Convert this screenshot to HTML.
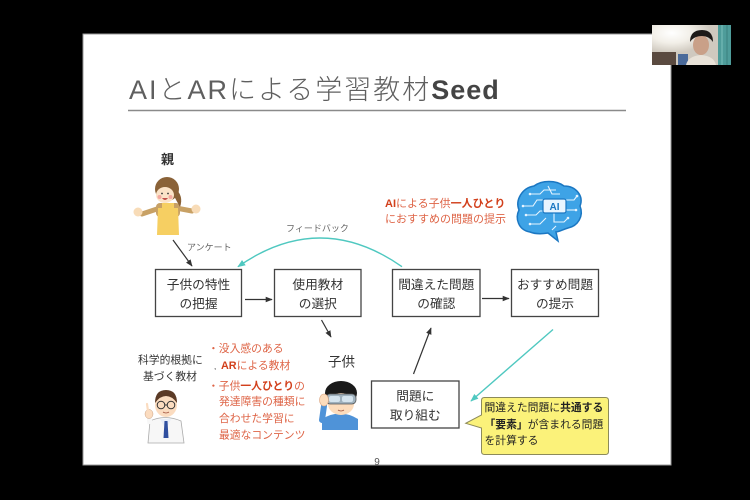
<!DOCTYPE html>
<html>
<head>
<meta charset="utf-8">
<style>
  html,body{margin:0;padding:0;background:#000;}
  body{width:750px;height:500px;overflow:hidden;position:relative;}
  svg{position:absolute;left:0;top:0;}
  text{font-family:"Liberation Sans","Noto Sans CJK JP",sans-serif;}
</style>
</head>
<body>
<svg width="750" height="500" viewBox="0 0 750 500" xmlns="http://www.w3.org/2000/svg">
  <defs>
    <marker id="ah" viewBox="0 0 10 10" refX="9" refY="5" markerWidth="7" markerHeight="7" markerUnits="userSpaceOnUse" orient="auto">
      <path d="M0,1 L10,5 L0,9 z" fill="#333"/>
    </marker>
    <marker id="aht" viewBox="0 0 10 10" refX="9" refY="5" markerWidth="8" markerHeight="8" markerUnits="userSpaceOnUse" orient="auto">
      <path d="M0,1 L10,5 L0,9 z" fill="#4fc8c0"/>
    </marker>
    <radialGradient id="lamp" cx="0.25" cy="0.2" r="0.5">
      <stop offset="0" stop-color="#ffffff"/>
      <stop offset="0.5" stop-color="#f2efe8"/>
      <stop offset="1" stop-color="#cfc9bf"/>
    </radialGradient>
  </defs>

  <rect x="0" y="0" width="750" height="500" fill="#000"/>

  <!-- slide -->
  <rect x="83" y="34" width="588" height="431" fill="#ffffff" stroke="#9a9a9a" stroke-width="1"/>

  <!-- title -->
  <text x="129" y="99" font-size="27" fill="#5f5f5f" font-weight="300" letter-spacing="2">AIとARによる学習教材<tspan font-weight="bold" fill="#444" letter-spacing="1">Seed</tspan></text>
  <line x1="128" y1="110.5" x2="626" y2="110.5" stroke="#8a8a8a" stroke-width="1.5"/>

  <!-- boxes -->
  <g fill="#fff" stroke="#444" stroke-width="1.3">
    <rect x="155.5" y="269.5" width="86" height="47"/>
    <rect x="274.5" y="269.5" width="86.5" height="47"/>
    <rect x="392.5" y="269.5" width="87.5" height="47"/>
    <rect x="511.5" y="269.5" width="87" height="47"/>
    <rect x="371.5" y="381" width="87.5" height="47"/>
  </g>
  <g font-size="12.7" fill="#333" text-anchor="middle">
    <text x="198.5" y="289">子供の特性</text>
    <text x="198.5" y="308">の把握</text>
    <text x="317.8" y="289">使用教材</text>
    <text x="317.8" y="308">の選択</text>
    <text x="436.3" y="289">間違えた問題</text>
    <text x="436.3" y="308">の確認</text>
    <text x="555" y="289">おすすめ問題</text>
    <text x="555" y="308">の提示</text>
    <text x="415.3" y="400.5">問題に</text>
    <text x="415.3" y="419.5">取り組む</text>
  </g>

  <!-- dark arrows -->
  <g stroke="#333" stroke-width="1.2" fill="none" marker-end="url(#ah)">
    <line x1="245" y1="299.5" x2="272" y2="299.5"/>
    <line x1="482" y1="298.5" x2="509" y2="298.5"/>
    <line x1="173" y1="240" x2="192" y2="266"/>
    <line x1="321.5" y1="320" x2="331" y2="337"/>
    <line x1="413.5" y1="374" x2="431" y2="328"/>
  </g>

  <!-- teal arrows -->
  <path d="M402,266.7 Q320,209.3 238,266.7" stroke="#4fc8c0" stroke-width="1.4" fill="none" marker-end="url(#aht)"/>
  <line x1="553" y1="329.5" x2="471" y2="401" stroke="#4fc8c0" stroke-width="1.4" marker-end="url(#aht)"/>

  <!-- labels -->
  <text x="161" y="164" font-size="13" font-weight="bold" fill="#333">親</text>
  <text x="187" y="250.5" font-size="9" fill="#666">アンケート</text>
  <text x="286" y="231.5" font-size="9" fill="#666">フィードバック</text>

  <text x="385" y="207" font-size="11" fill="#de6446"><tspan font-weight="bold" fill="#d2401c">AI</tspan>による子供<tspan font-weight="bold" fill="#d2401c">一人ひとり</tspan></text>
  <text x="385" y="222.5" font-size="11" fill="#de6446">におすすめの問題の提示</text>

  <text x="328" y="366.5" font-size="13.5" fill="#333">子供</text>

  <text x="138" y="363.5" font-size="10.8" fill="#333">科学的根拠に</text>
  <text x="143" y="380" font-size="10.8" fill="#333">基づく教材</text>

  <g font-size="10.8" fill="#de6446">
    <text x="208" y="352">・没入感のある</text>
    <text x="214" y="369" fill="#333" font-size="8">,</text>
    <text x="221" y="369"><tspan font-weight="bold" fill="#d2401c">AR</tspan>による教材</text>
    <text x="208" y="389.5">・子供<tspan font-weight="bold" fill="#d2401c">一人ひとり</tspan>の</text>
    <text x="219" y="405">発達障害の種類に</text>
    <text x="219" y="422">合わせた学習に</text>
    <text x="219" y="438.5">最適なコンテンツ</text>
  </g>

  <!-- callout -->
  <path d="M484.5,397.5 L605.5,397.5 Q608.5,397.5 608.5,400.5 L608.5,451.5 Q608.5,454.5 605.5,454.5 L484.5,454.5 Q481.5,454.5 481.5,451.5 L481.5,428 L465.7,423.3 L481.5,415 L481.5,400.5 Q481.5,397.5 484.5,397.5 Z" fill="#fbf27a" stroke="#8c8a5a" stroke-width="1"/>
  <g font-size="10.8" fill="#222">
    <text x="484.5" y="411">間違えた問題に<tspan font-weight="bold">共通する</tspan></text>
    <text x="484.5" y="428"><tspan font-weight="bold">「要素」</tspan>が含まれる問題</text>
    <text x="484.5" y="444">を計算する</text>
  </g>

  <!-- page number -->
  <text x="377" y="465" font-size="10" fill="#555" text-anchor="middle">9</text>

  <!-- parent figure -->
  <g>
    <path d="M160,208 L142,214" stroke="#c8a165" stroke-width="5" stroke-linecap="round"/>
    <path d="M176,208 L192,211" stroke="#c8a165" stroke-width="5" stroke-linecap="round"/>
    <circle cx="138" cy="212" r="4.5" fill="#f8dcb8"/>
    <circle cx="196" cy="209" r="4.5" fill="#f8dcb8"/>
    <rect x="156" y="203" width="24" height="14" rx="4" fill="#c8a165"/>
    <path d="M162,203 L174,203 L174,208 L178,208 L179,235 L157,235 L158,208 L162,208 Z" fill="#f6cf62"/>
    <ellipse cx="167" cy="189" rx="12" ry="12" fill="#8a6238"/>
    <path d="M175,188 Q184,196 180,207 Q176,200 173,194 Z" fill="#8a6238"/>
    <ellipse cx="165" cy="195" rx="9" ry="8" fill="#fbe3c8"/>
    <circle cx="159.5" cy="197" r="2" fill="#f4a9a0"/>
    <circle cx="170.5" cy="197" r="2" fill="#f4a9a0"/>
    <path d="M162,198 Q165,202 168,198 Z" fill="#c0504a"/>
    <circle cx="162" cy="193.5" r="0.9" fill="#333"/>
    <circle cx="168" cy="193.5" r="0.9" fill="#333"/>
  </g>

  <!-- child figure -->
  <g>
    <path d="M322,430 L322,419 Q340,408 358,419 L358,430 Z" fill="#4f93d8"/>
    <path d="M322,420 L324,406" stroke="#4f93d8" stroke-width="6" stroke-linecap="round"/>
    <ellipse cx="341" cy="393" rx="16" ry="12" fill="#1a1a1a"/>
    <ellipse cx="341" cy="404" rx="13" ry="11" fill="#fcdcbc"/>
    <rect x="326" y="394" width="30" height="10" rx="4" fill="#9fb1bd" stroke="#555" stroke-width="0.8"/>
    <rect x="329" y="396" width="11" height="6" rx="2" fill="#d5e4ee"/>
    <rect x="342" y="396" width="11" height="6" rx="2" fill="#d5e4ee"/>
    <ellipse cx="324" cy="400" rx="4.5" ry="6" fill="#fcdcbc" stroke="#d9a07a" stroke-width="0.6"/>
    <path d="M338,410 Q341,412 344,410" stroke="#a0503a" stroke-width="0.8" fill="none"/>
  </g>

  <!-- doctor figure -->
  <g>
    <path d="M148,443 L150,421 Q165,414 181,421 L184,443 Z" fill="#f7f7f7" stroke="#aaa" stroke-width="0.8"/>
    <path d="M160,419 L166,430 L171,419 Z" fill="#e8eef8"/>
    <path d="M164.5,421 L167.5,421 L168.5,438 L163.5,438 Z" fill="#2f4f9f"/>
    <ellipse cx="166" cy="405" rx="11" ry="12" fill="#fbdcc0"/>
    <path d="M155,403 Q155,390 166,390 Q177,390 177,403 Q172,396 166,396 Q160,396 155,403 Z" fill="#5b3a26"/>
    <circle cx="161" cy="405" r="3.8" fill="none" stroke="#333" stroke-width="1"/>
    <circle cx="171" cy="405" r="3.8" fill="none" stroke="#333" stroke-width="1"/>
    <line x1="164.8" y1="405" x2="167.2" y2="405" stroke="#333" stroke-width="1"/>
    <path d="M163,412 Q166,414 169,412" stroke="#a0503a" stroke-width="0.8" fill="none"/>
    <path d="M150,424 L149,416" stroke="#f7f7f7" stroke-width="5"/>
    <ellipse cx="149" cy="414" rx="4" ry="4.5" fill="#fbdcc0" stroke="#c9a080" stroke-width="0.5"/>
    <path d="M148,411 L147,404" stroke="#fbdcc0" stroke-width="2.2" stroke-linecap="round"/>
  </g>

  <!-- brain icon -->
  <g>
    <path d="M530,232 C518,230 515,218 519,210 C515,200 522,188 534,186 C542,180 556,180 564,186 C576,186 584,196 580,206 C584,216 578,226 568,228 C562,230 558,232 556,232 L558,241 L548,233 C542,234 535,234 530,232 Z" fill="#3ea3e6" stroke="#1b77c2" stroke-width="1.5"/>
    <g stroke="#e6f4ff" stroke-width="1.1" fill="none">
      <path d="M523,206 L533,206 L537,200 L543,200"/>
      <path d="M526,215 L536,215 L540,211 L543,211"/>
      <path d="M530,194 L540,194 L544,190 L556,190"/>
      <path d="M548,186 L552,194 L560,194"/>
      <path d="M566,200 L574,200 L577,196"/>
      <path d="M566,210 L576,210"/>
      <path d="M554,213 L554,222 L564,222 L568,218"/>
      <path d="M530,224 L540,224 L546,218"/>
      <path d="M556,226 L552,230"/>
    </g>
    <g fill="#e6f4ff">
      <circle cx="523" cy="206" r="1.3"/>
      <circle cx="526" cy="215" r="1.3"/>
      <circle cx="530" cy="194" r="1.3"/>
      <circle cx="577" cy="196" r="1.3"/>
      <circle cx="576" cy="210" r="1.3"/>
      <circle cx="568" cy="218" r="1.3"/>
      <circle cx="530" cy="224" r="1.3"/>
    </g>
    <rect x="543" y="199" width="23" height="14" rx="2" fill="#e8f5ff" stroke="#1b77c2" stroke-width="1.2"/>
    <text x="554.5" y="210" font-size="10" font-weight="bold" fill="#1b77c2" text-anchor="middle">AI</text>
  </g>

  <!-- webcam thumbnail -->
  <g>
    <rect x="652" y="25" width="79" height="40" fill="url(#lamp)"/>
    <rect x="718" y="25" width="13" height="40" fill="#4e9c9a"/>
    <line x1="722" y1="25" x2="722" y2="65" stroke="#7cc0bc" stroke-width="1"/>
    <line x1="727" y1="25" x2="727" y2="65" stroke="#3a7f7e" stroke-width="1"/>
    <rect x="652" y="52" width="24" height="13" fill="#5a4a40"/>
    <rect x="678" y="54" width="10" height="11" fill="#4a6a9a"/>
    <path d="M686,65 Q688,56 701,55 Q714,56 716,65 Z" fill="#e8e2d8"/>
    <ellipse cx="701" cy="45" rx="8" ry="10" fill="#c9a088"/>
    <path d="M690,42 Q690,30 702,30 Q713,30 713,42 Q709,36 702,36 Q694,36 690,42 Z" fill="#1e1a18"/>
  </g>
</svg>
</body>
</html>
